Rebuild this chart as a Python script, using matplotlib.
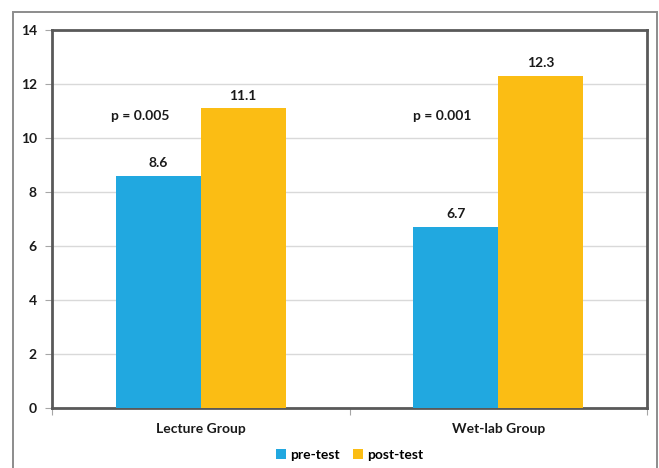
import matplotlib.pyplot as plt
from matplotlib.patches import Rectangle

# chart values
groups = ['Lecture Group', 'Wet-lab Group']
pre_test = [8.6, 6.7]
post_test = [11.1, 12.3]
p_values = ['p = 0.005', 'p = 0.001']
y_ticks = [0, 2, 4, 6, 8, 10, 12, 14]

blue = '#21A8E0'
orange = '#FBBD14'

plt.rcParams['font.family'] = ['Lato', 'DejaVu Sans']
plt.rcParams['font.weight'] = 'bold'

fig = plt.figure(figsize=(6.59, 4.68), dpi=100)

# light gray frame round the chart
fig.patches.append(Rectangle((13 / 659, -0.05), 644 / 659, 1.05 - 12 / 468,
                             transform=fig.transFigure, fill=False,
                             edgecolor='#8c8c8c', linewidth=1.4))

ax = fig.add_axes([52 / 659, 1 - 408 / 468, 595 / 659, 378 / 468])

x = list(range(len(groups)))
w = 0.285
ax.bar([i - w / 2 for i in x], pre_test, w, color=blue, label='pre-test', zorder=3)
ax.bar([i + w / 2 for i in x], post_test, w, color=orange, label='post-test', zorder=3)

for i in x:
    ax.text(i - w / 2, pre_test[i] + 0.25, f'{pre_test[i]}', ha='center', va='bottom',
            fontsize=10, fontweight='bold', color='#1a1a1a')
    ax.text(i + w / 2, post_test[i] + 0.25, f'{post_test[i]}', ha='center', va='bottom',
            fontsize=10, fontweight='bold', color='#1a1a1a')

ax.text(-0.205, 10.8, p_values[0], ha='center', va='center', fontsize=10,
        fontweight='bold', color='#1a1a1a')
ax.text(0.81, 10.8, p_values[1], ha='center', va='center', fontsize=10,
        fontweight='bold', color='#1a1a1a')

ax.set_xlim(-0.5, 1.5)
ax.set_ylim(0, 14)
ax.set_yticks(y_ticks)
ax.set_yticklabels([str(t) for t in y_ticks], fontsize=10, fontweight='bold', color='#1a1a1a')
ax.yaxis.grid(True, color='#d9d9d9', linewidth=1, zorder=0)
ax.set_axisbelow(True)

# category labels between boundary ticks
ax.set_xticks([-0.5, 0.5, 1.5])
ax.set_xticklabels([])
ax.set_xticks(x, minor=True)
ax.set_xticklabels(groups, minor=True, fontsize=10, fontweight='bold', color='#1a1a1a')
ax.tick_params(axis='x', which='minor', length=0, pad=11)
ax.tick_params(axis='x', which='major', length=5, color='#a6a6a6')
ax.tick_params(axis='y', length=5, color='#a6a6a6', pad=6)

for s in ax.spines.values():
    s.set_color('#595959')
    s.set_linewidth(2)

ax.legend(loc='upper center', bbox_to_anchor=(0.5, -0.075), ncol=2, frameon=False,
          fontsize=10, handlelength=0.7, handleheight=0.7, handletextpad=0.3,
          columnspacing=1.0)

fig.savefig('out.png', dpi=100)
